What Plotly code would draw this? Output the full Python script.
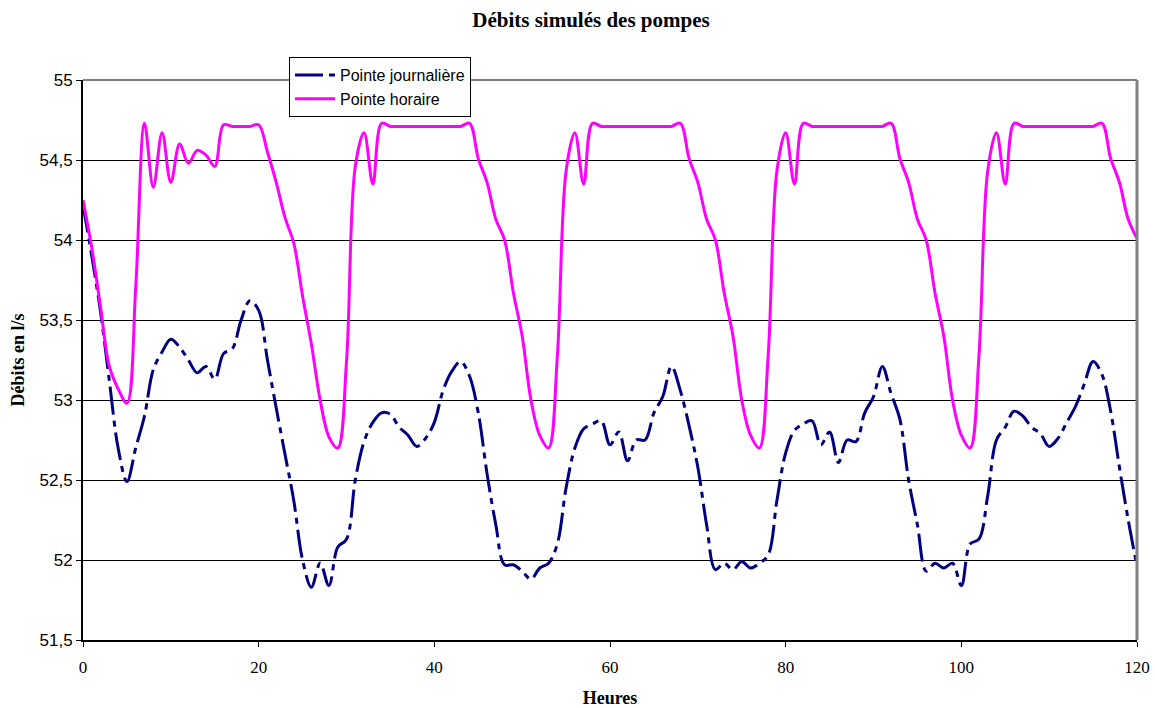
import plotly.graph_objects as go

# Heures de simulation (pas horaire)
heures = list(range(121))

# Débit simulé - pointe horaire (l/s)
pointe_horaire = [
    54.25, 53.95, 53.58, 53.21, 53.07, 52.98, 53.70, 54.73, 54.33, 54.67,
    54.36, 54.60, 54.48, 54.56, 54.53, 54.46, 54.72, 54.71, 54.71, 54.71,
    54.72, 54.55, 54.36, 54.14, 53.98, 53.65, 53.35, 53.00, 52.77, 52.70,
    53.24, 54.46, 54.67, 54.35, 54.73, 54.71, 54.71, 54.71, 54.71, 54.71,
    54.71, 54.71, 54.71, 54.71, 54.73, 54.51, 54.36, 54.13, 54.00, 53.67,
    53.40, 53.00, 52.78, 52.70, 53.27, 54.43, 54.67, 54.35, 54.73, 54.71,
    54.71, 54.71, 54.71, 54.71, 54.71, 54.71, 54.71, 54.71, 54.73, 54.51,
    54.36, 54.13, 54.00, 53.67, 53.40, 53.00, 52.78, 52.70, 53.27, 54.43,
    54.67, 54.35, 54.73, 54.71, 54.71, 54.71, 54.71, 54.71, 54.71, 54.71,
    54.71, 54.71, 54.73, 54.51, 54.36, 54.13, 54.00, 53.67, 53.40, 53.00,
    52.78, 52.70, 53.27, 54.43, 54.67, 54.35, 54.73, 54.71, 54.71, 54.71,
    54.71, 54.71, 54.71, 54.71, 54.71, 54.71, 54.73, 54.51, 54.36, 54.13,
    54.01,
]

# Débit simulé - pointe journalière (l/s)
pointe_journaliere = [
    54.22, 53.90, 53.55, 53.12, 52.70, 52.49, 52.70, 52.90, 53.19, 53.30,
    53.38, 53.33, 53.25, 53.17, 53.21, 53.13, 53.29, 53.32, 53.50, 53.62,
    53.56, 53.25, 52.95, 52.66, 52.37, 52.00, 51.83, 51.98, 51.84, 52.08,
    52.13, 52.50, 52.74, 52.86, 52.92, 52.91, 52.83, 52.78, 52.71, 52.76,
    52.86, 53.06, 53.18, 53.24, 53.15, 52.92, 52.54, 52.22, 51.97, 51.97,
    51.93, 51.88, 51.95, 51.98, 52.10, 52.45, 52.70, 52.82, 52.85, 52.87,
    52.72, 52.80, 52.62, 52.75, 52.75, 52.92, 53.02, 53.21, 53.06, 52.84,
    52.58, 52.22, 51.94, 51.98, 51.94, 51.99, 51.95, 51.98, 52.03, 52.37,
    52.67, 52.81, 52.85, 52.87, 52.72, 52.80, 52.61, 52.75, 52.74, 52.92,
    53.02, 53.21, 53.04, 52.88, 52.50, 52.22, 51.93, 51.98, 51.95, 51.98,
    51.84, 52.10, 52.13, 52.40, 52.75, 52.83, 52.93, 52.90, 52.83, 52.79,
    52.71, 52.76, 52.86, 52.96, 53.10, 53.24, 53.16, 52.93, 52.58, 52.25,
    51.96,
]

x_ticks = [0, 20, 40, 60, 80, 100, 120]
y_ticks = [51.5, 52.0, 52.5, 53.0, 53.5, 54.0, 54.5, 55.0]
y_tick_labels = ["51,5", "52", "52,5", "53", "53,5", "54", "54,5", "55"]

SERIF = "Liberation Serif, Times New Roman, serif"
SANS = "Liberation Sans, Arial, sans-serif"

fig = go.Figure()

fig.add_trace(go.Scatter(
    x=heures, y=pointe_journaliere, name="Pointe journalière",
    legendgroup="journaliere",
    mode="lines", line=dict(color="#000080", width=3, shape="spline",
                            dash="28px,6px,6px,6px"),
))
fig.add_trace(go.Scatter(
    x=heures, y=pointe_horaire, name="Pointe horaire",
    legendgroup="horaire",
    mode="lines", line=dict(color="#FF00FF", width=3, shape="spline"),
))

fig.update_layout(
    width=1155, height=708, autosize=False,
    margin=dict(l=83, r=18, t=80, b=68),
    paper_bgcolor="white", plot_bgcolor="white",
    title=dict(text="<b>Débits simulés des pompes</b>",
               font=dict(family=SERIF, size=21, color="black"),
               x=(591 - 83) / 1054, xref="paper", xanchor="center",
               y=1 - 20 / 708, yref="container", yanchor="middle"),
    legend=dict(x=(289 - 83) / 1054, y=1 + (80 - 57) / 560,
                xanchor="left", yanchor="top",
                bgcolor="white", bordercolor="black", borderwidth=1,
                font=dict(family=SANS, size=16, color="black"),
                itemwidth=40, tracegroupgap=0, traceorder="grouped"),
    showlegend=True,
)

fig.update_xaxes(
    range=[0, 120], tickvals=x_ticks, ticks="outside", ticklen=5,
    tickcolor="black", tickwidth=1, showline=True, linecolor="black",
    linewidth=2, showgrid=False, zeroline=False, automargin=False,
    ticklabelstandoff=6,
    tickfont=dict(family=SERIF, size=17, color="black"),
    title=dict(text="<b>Heures</b>", standoff=18,
               font=dict(family=SERIF, size=18, color="black")),
)
fig.update_yaxes(
    range=[51.5, 55], tickvals=y_ticks, ticktext=y_tick_labels,
    ticks="outside", ticklen=5, tickcolor="black", tickwidth=1,
    showline=True, linecolor="black", linewidth=2,
    showgrid=True, gridcolor="black", gridwidth=1, zeroline=False,
    automargin=False,
    tickfont=dict(family=SANS, size=17, color="black"),
    title=dict(text="<b>Débits en l/s</b>", standoff=10,
               font=dict(family=SERIF, size=18, color="black")),
)

# Cadre gris de la zone de tracé (haut et droite)
fig.add_shape(type="line", xref="paper", yref="paper", x0=0, x1=1, y0=1, y1=1,
              line=dict(color="#808080", width=2), layer="above")
fig.add_shape(type="line", xref="paper", yref="paper", x0=1, x1=1, y0=0, y1=1,
              line=dict(color="#808080", width=3), layer="above")

fig.write_html("out.html")
